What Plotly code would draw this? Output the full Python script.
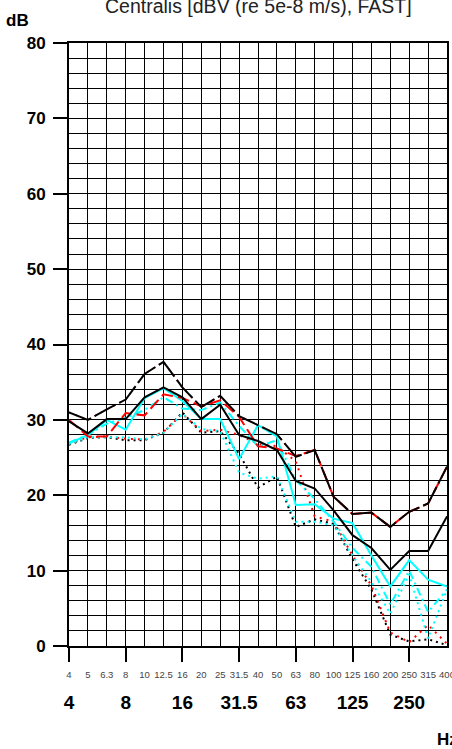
import plotly.graph_objects as go

BANDS = ["4", "5", "6.3", "8", "10", "12.5", "16", "20", "25", "31.5", "40",
         "50", "63", "80", "100", "125", "160", "200", "250", "315", "400"]
OCTAVE_LABELS = ["4", "8", "16", "31.5", "63", "125", "250"]

top_black_dash = [31.0, 30.0, 31.4, 32.7, 36.1, 37.7, 34.3, 31.7, 33.2, 30.5, 29.3,
                  28.1, 25.1, 26.0, 19.8, 17.5, 17.7, 15.8, 17.8, 18.9, 23.8]
top_red_dot = [31.0, 30.0, 31.4, 32.7, 36.1, 37.7, 34.3, 31.7, 33.2, 30.5, 29.3,
               28.1, 25.1, 26.0, 19.8, 17.5, 17.7, 15.8, 17.8, 18.9, 23.8]
red_dash = [30.0, 27.8, 27.8, 30.9, 30.6, 33.4, 32.9, 31.8, 32.6, 30.4, 26.5,
            26.2, 25.2, 26.0, 19.8, 17.5, 17.7, 15.8, 17.8, 18.9, 23.8]
black_solid = [29.8, 28.2, 30.1, 30.1, 33.0, 34.3, 33.0, 30.1, 32.0, 28.0, 27.2,
               26.0, 21.9, 20.9, 18.0, 14.7, 13.0, 10.1, 12.6, 12.6, 17.2]
cyan_solid = [26.9, 28.0, 30.0, 28.7, 32.9, 34.2, 32.5, 30.1, 30.1, 24.8, 29.3,
              27.8, 18.7, 18.8, 16.9, 16.3, 12.0, 7.9, 11.4, 8.8, 7.9]
cyan_dash = [27.0, 28.0, 29.5, 30.3, 31.3, 33.0, 31.5, 31.3, 32.3, 29.2, 26.5,
             27.3, 22.0, 19.5, 16.5, 13.0, 10.5, 5.5, 10.0, 4.5, 7.5]
cyan_dot = [26.8, 27.7, 27.7, 27.7, 27.4, 28.3, 30.8, 28.8, 28.5, 23.0, 22.2,
            22.5, 16.5, 16.5, 16.0, 12.0, 8.5, 4.3, 9.5, 1.0, 7.5]
black_dot = [26.7, 27.6, 27.7, 27.3, 27.3, 28.3, 31.0, 28.3, 28.5, 25.5, 21.0,
             22.5, 15.8, 16.8, 16.2, 11.5, 7.5, 1.5, 0.6, 0.9, 0.1]
red_dot = [26.9, 27.7, 27.8, 27.5, 27.4, 28.4, 30.8, 28.5, 28.7, 28.0, 26.8,
           26.5, 24.5, 17.2, 16.5, 12.0, 8.0, 1.8, 0.5, 2.8, 0.3]

x_idx = list(range(len(BANDS)))
oct_idx = [BANDS.index(b) for b in OCTAVE_LABELS]

series = [
    (black_dot, "black", "2px,4px", 2),
    (red_dot, "red", "2px,5px", 2),
    (cyan_dot, "cyan", "2px,4px", 2),
    (cyan_dash, "cyan", "8px,4px,2px,4px", 2),
    (cyan_solid, "cyan", "solid", 2),
    (red_dash, "red", "12px,5px", 2),
    (black_solid, "black", "solid", 2),
    (top_red_dot, "red", "2px,5px", 1.6),
    (top_black_dash, "black", "24px,4px", 2),
]

fig = go.Figure()
for vals, col, dash, w in series:
    fig.add_trace(go.Scatter(x=x_idx, y=vals, mode="lines",
                             line=dict(color=col, dash=dash, width=w),
                             showlegend=False, hoverinfo="skip"))

# overlay axis for small band labels
fig.add_trace(go.Scatter(x=[x_idx[0]], y=[None], xaxis="x2", showlegend=False,
                         hoverinfo="skip"))

fig.update_layout(
    width=452, height=749,
    margin=dict(l=69, r=5, t=43, b=103, autoexpand=False),
    paper_bgcolor="white", plot_bgcolor="white",
    font=dict(family="Arial, Liberation Sans, sans-serif", color="black"),
    xaxis=dict(range=[0, 20], tickmode="array", tickvals=oct_idx,
               ticktext=OCTAVE_LABELS, ticks="outside", ticklen=14,
               tickwidth=1.5, tickcolor="black", automargin=False,
               tickfont=dict(size=19, family="Arial", color="black", weight="bold"),
               ticklabelstandoff=24,
               showgrid=True, gridcolor="black", gridwidth=1,
               minor=dict(dtick=1, tick0=0, showgrid=True, gridcolor="black",
                          gridwidth=1, ticks=""),
               showline=True, linecolor="black", linewidth=2, mirror=True,
               zeroline=False, fixedrange=True),
    xaxis2=dict(range=[0, 20], overlaying="x", side="bottom", anchor="y",
                tickmode="array", tickvals=x_idx, ticktext=BANDS, ticks="",
                tickfont=dict(size=9.5, color="#444"), ticklabelstandoff=21,
                ticklabeloverflow="allow", automargin=False,
                showgrid=False, showline=False, zeroline=False),
    yaxis=dict(range=[0, 80], tickmode="array", tickvals=list(range(0, 81, 10)),
               ticks="outside", ticklen=14, tickwidth=1.5, tickcolor="black",
               tickfont=dict(size=17, family="Arial", color="black", weight="bold"),
               ticklabelstandoff=4, automargin=False,
               showgrid=True, gridcolor="black", gridwidth=1,
               minor=dict(dtick=2, tick0=0, showgrid=True, gridcolor="black",
                          gridwidth=1, ticks=""),
               showline=True, linecolor="black", linewidth=2, mirror=True,
               zeroline=False, fixedrange=True),
    annotations=[
        dict(text="Centralis [dBV (re 5e-8 m/s), FAST]", xref="paper", yref="paper",
             x=0.5, y=1.061, xanchor="center", yanchor="middle", showarrow=False,
             font=dict(size=19.5, color="#222")),
        dict(text="<b>dB</b>", xref="paper", yref="paper", x=-0.135, y=1.038,
             xanchor="center", yanchor="middle", showarrow=False,
             font=dict(size=17, color="black")),
        dict(text="<b>Hz</b>", xref="paper", yref="paper", x=0.967, y=-0.155,
             xanchor="left", yanchor="middle", showarrow=False,
             font=dict(size=17, color="black")),
    ],
)

fig.write_html("out.html")
